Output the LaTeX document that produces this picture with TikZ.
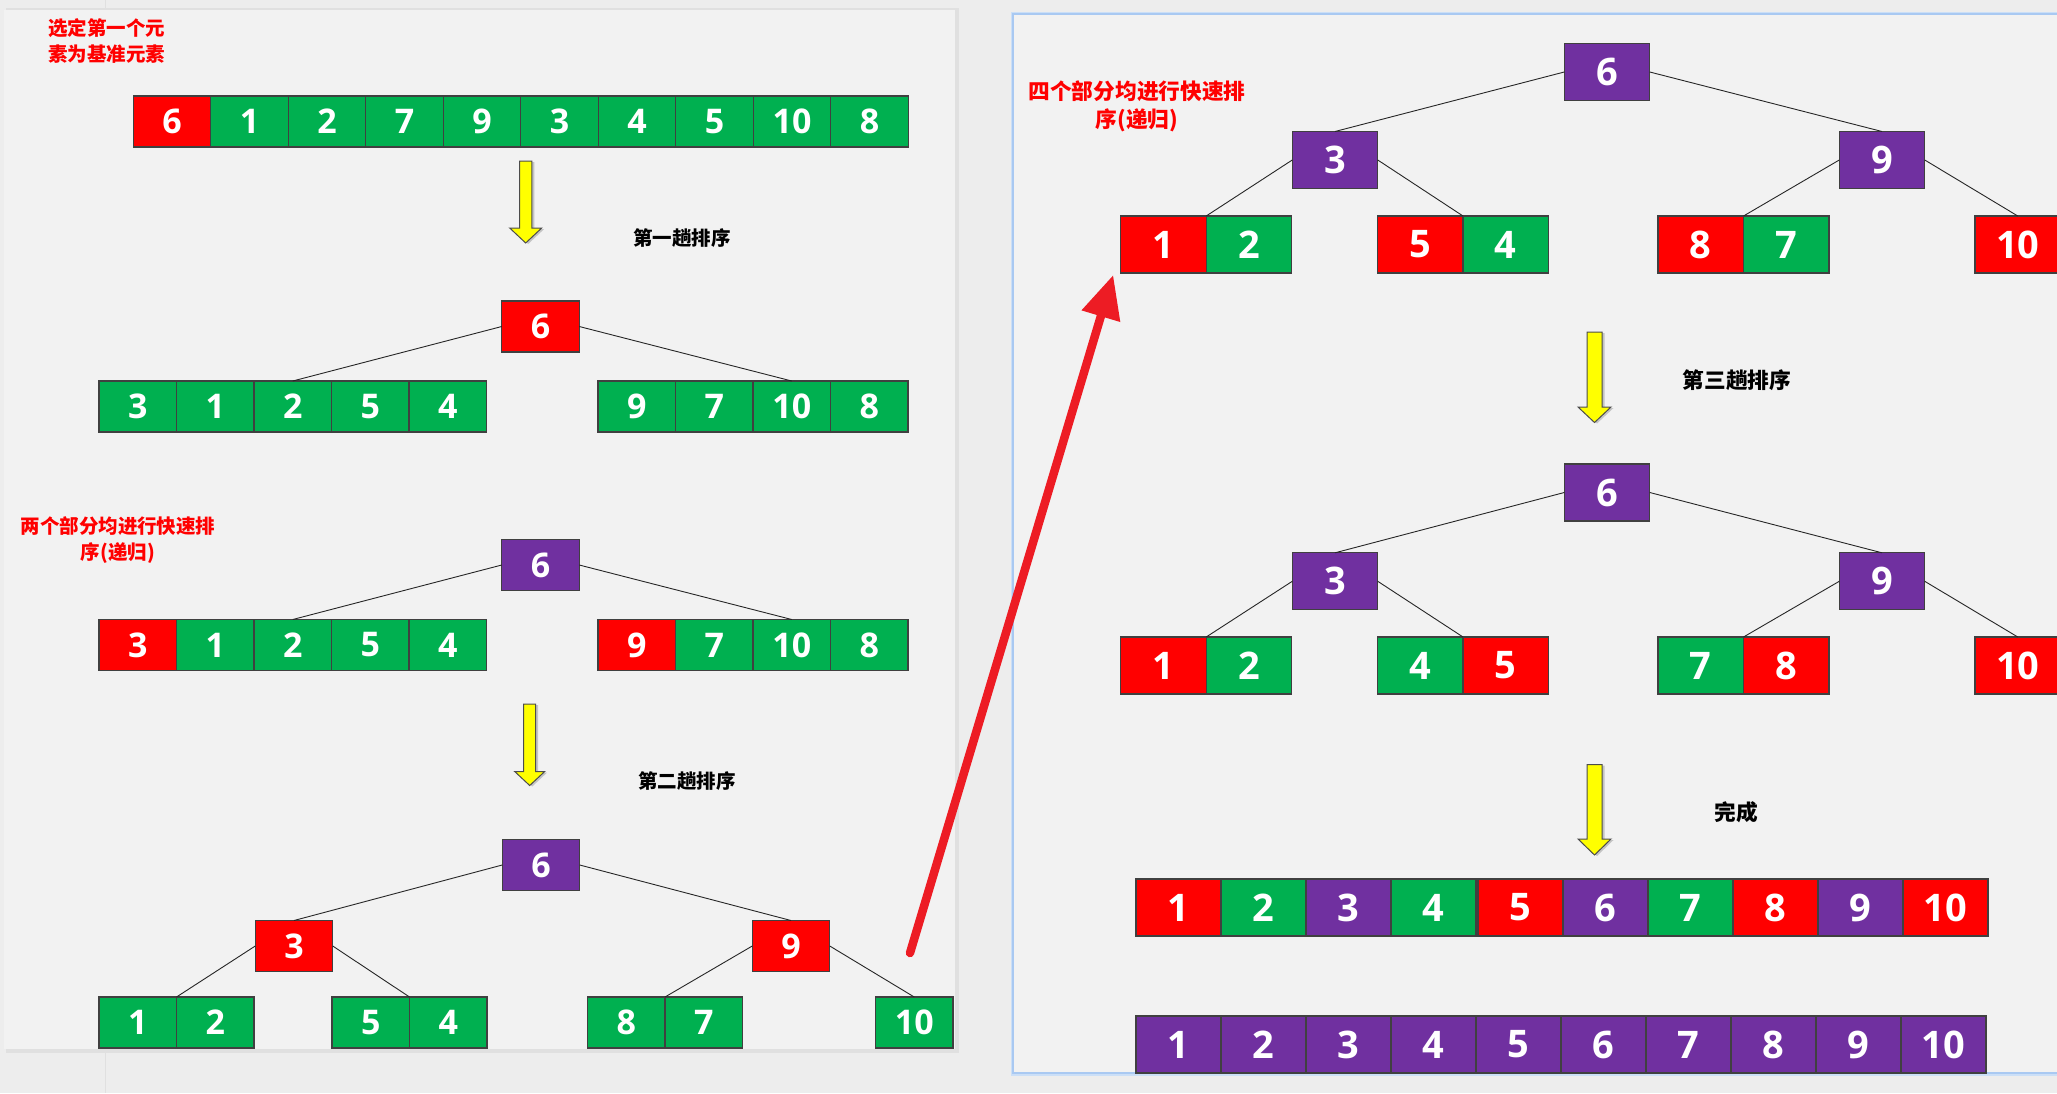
\documentclass[tikz,border=0pt]{standalone}
\usepackage{fontspec}
\setmainfont{Open Sans}
\newfontfamily\cjk{Noto Sans CJK SC}
\usetikzlibrary{arrows.meta,positioning,shadows}
\definecolor{qred}{HTML}{FF0000}
\definecolor{qgreen}{HTML}{00B050}
\definecolor{qpurple}{HTML}{7030A0}
\definecolor{qyellow}{HTML}{FFFF00}
\definecolor{arrowred}{HTML}{ED1C24}
\definecolor{pagebg}{HTML}{EDEDED}
\definecolor{panelbg}{HTML}{F2F2F2}
\definecolor{glow}{HTML}{A9C9F2}

\begin{document}
\begin{tikzpicture}[x=1pt, y=-1pt,
  cell/.style={rectangle, draw=black!75, line width=1.3pt, minimum width=77.5pt,
               minimum height=51pt, inner sep=0pt, outer sep=0pt, text=white,
               font=\bfseries\fontsize{34}{40}\selectfont},
  big/.style={minimum width=85.5pt, minimum height=57pt,
              font=\bfseries\fontsize{38}{44}\selectfont},
  re/.style={cell, fill=qred},
  gr/.style={cell, fill=qgreen},
  pu/.style={cell, fill=qpurple},
  lbl/.style={text=qred, align=center, inner sep=0pt,
              font=\cjk\bfseries\fontsize{19.5}{26}\selectfont},
  rlbl/.style={lbl, font=\cjk\bfseries\fontsize{21.7}{28}\selectfont},
  passlbl/.style={inner sep=0pt, font=\cjk\bfseries\fontsize{19.5}{24}\selectfont},
  rpass/.style={passlbl, font=\cjk\bfseries\fontsize{21.7}{26}\selectfont},
  link/.style={draw=black!85, line width=0.9pt},
  yarr/.style={draw=black!70, line width=1pt, fill=qyellow, line join=miter,
               drop shadow={shadow xshift=2.5pt, shadow yshift=-1pt, fill=black!35, opacity=.6}},
  jump/.style={-{Triangle[length=43pt,width=38pt]}, draw=arrowred, line width=8.5pt,
               line cap=round}]
  \useasboundingbox (0,0) rectangle (2057,1093);
  % background and the two panels
  \fill[pagebg] (0,0) rectangle (2057,1093);
  \draw[black!12] (105,0) -- (105,1093);
  \fill[black!12] (6,8) rectangle (959,1053);
  \fill[panelbg] (4,10) rectangle (955,1049);
  \draw[glow!60, line width=5pt] (1013,14) rectangle (2075,1073);
  \draw[glow, line width=1.5pt, fill=panelbg] (1013,14) rectangle (2075,1073);

  % left panel: starting array
  \node[lbl] (t1) at (107,41) {选定第一个元\\素为基准元素};
  \node[re, anchor=north west] (a1) at (133.3,96) {6};
  \node[gr, right=0pt of a1] (a2) {1};
  \node[gr, right=0pt of a2] (a3) {2};
  \node[gr, right=0pt of a3] (a4) {7};
  \node[gr, right=0pt of a4] (a5) {9};
  \node[gr, right=0pt of a5] (a6) {3};
  \node[gr, right=0pt of a6] (a7) {4};
  \node[gr, right=0pt of a7] (a8) {5};
  \node[gr, right=0pt of a8] (a9) {10};
  \node[gr, right=0pt of a9] (a10) {8};
  \draw[yarr] (519.5,161) -- (531.9,161) -- (531.9,228) -- (541.7,228) -- (525.7,243)
    -- (509.7,228) -- (519.5,228) -- cycle;
  \node[passlbl] (s1) at (682,238) {第一趟排序};

  % first pass
  \node[re] (p1) at (540.5,326.5) {6};
  \node[gr, anchor=north west] (b1) at (99,381) {3};
  \node[gr, right=0pt of b1] (b2) {1};
  \node[gr, right=0pt of b2] (b3) {2};
  \node[gr, right=0pt of b3] (b4) {5};
  \node[gr, right=0pt of b4] (b5) {4};
  \node[gr, anchor=north west] (b6) at (598,381) {9};
  \node[gr, right=0pt of b6] (b7) {7};
  \node[gr, right=0pt of b7] (b8) {10};
  \node[gr, right=0pt of b8] (b9) {8};
  \draw[link] (p1.west) -- (b3.north);
  \draw[link] (p1.east) -- (b8.north);

  % both halves again
  \node[lbl] (t2) at (118,540) {两个部分均进行快速排\\序(递归)};
  \node[pu] (p2) at (540.5,565) {6};
  \node[re, anchor=north west] (c1) at (99,619.5) {3};
  \node[gr, right=0pt of c1] (c2) {1};
  \node[gr, right=0pt of c2] (c3) {2};
  \node[gr, right=0pt of c3] (c4) {5};
  \node[gr, right=0pt of c4] (c5) {4};
  \node[re, anchor=north west] (c6) at (598,619.5) {9};
  \node[gr, right=0pt of c6] (c7) {7};
  \node[gr, right=0pt of c7] (c8) {10};
  \node[gr, right=0pt of c8] (c9) {8};
  \draw[link] (p2.west) -- (c3.north);
  \draw[link] (p2.east) -- (c8.north);
  \draw[yarr] (523.7,704) -- (535.7,704) -- (535.7,771.5) -- (544.7,771.5) -- (529.7,785.5)
    -- (514.7,771.5) -- (523.7,771.5) -- cycle;
  \node[passlbl] (s2) at (687,781) {第二趟排序};

  % second pass
  \node[pu] (p3) at (541,865) {6};
  \node[re] (q3) at (294,946) {3};
  \node[re] (q9) at (791,946) {9};
  \node[gr, anchor=north west] (d1) at (99,997) {1};
  \node[gr, right=0pt of d1] (d2) {2};
  \node[gr, anchor=north west] (d3) at (332,997) {5};
  \node[gr, right=0pt of d3] (d4) {4};
  \node[gr, anchor=north west] (d5) at (587.5,997) {8};
  \node[gr, right=0pt of d5] (d6) {7};
  \node[gr, anchor=north west] (d7) at (875.5,997) {10};
  \draw[link] (p3.west) -- (q3.north);
  \draw[link] (p3.east) -- (q9.north);
  \draw[link] (q3.west) -- (d1.north east);
  \draw[link] (q3.east) -- (d3.north east);
  \draw[link] (q9.west) -- (d5.north east);
  \draw[link] (q9.east) -- (d7.north);

  % right panel: four parts
  \node[rlbl] (t3) at (1137,106) {四个部分均进行快速排\\序(递归)};
  \node[pu, big] (p4) at (1607,72) {6};
  \node[pu, big] (e3) at (1335,160) {3};
  \node[pu, big] (e9) at (1882,160) {9};
  \node[re, big, anchor=north west] (f1) at (1120.7,216) {1};
  \node[gr, big, right=0pt of f1] (f2) {2};
  \node[re, big, anchor=north west] (f3) at (1377.5,216) {5};
  \node[gr, big, right=0pt of f3] (f4) {4};
  \node[re, big, anchor=north west] (f5) at (1658,216) {8};
  \node[gr, big, right=0pt of f5] (f6) {7};
  \node[re, big, anchor=north west] (f7) at (1975,216) {10};
  \draw[link] (p4.west) -- (e3.north);
  \draw[link] (p4.east) -- (e9.north);
  \draw[link] (e3.west) -- (f1.north east);
  \draw[link] (e3.east) -- (f3.north east);
  \draw[link] (e9.west) -- (f5.north east);
  \draw[link] (e9.east) -- (f7.north);
  \draw[yarr] (1587,332) -- (1602,332) -- (1602,407) -- (1611,407) -- (1594.5,422.5)
    -- (1578,407) -- (1587,407) -- cycle;
  \node[rpass] (s3) at (1737,380) {第三趟排序};

  % third pass
  \node[pu, big] (p5) at (1607,492.5) {6};
  \node[pu, big] (g3) at (1335,581.3) {3};
  \node[pu, big] (g9) at (1882,581.3) {9};
  \node[re, big, anchor=north west] (h1) at (1120.7,637) {1};
  \node[gr, big, right=0pt of h1] (h2) {2};
  \node[gr, big, anchor=north west] (h3) at (1377.5,637) {4};
  \node[re, big, right=0pt of h3] (h4) {5};
  \node[gr, big, anchor=north west] (h5) at (1658,637) {7};
  \node[re, big, right=0pt of h5] (h6) {8};
  \node[re, big, anchor=north west] (h7) at (1975,637) {10};
  \draw[link] (p5.west) -- (g3.north);
  \draw[link] (p5.east) -- (g9.north);
  \draw[link] (g3.west) -- (h1.north east);
  \draw[link] (g3.east) -- (h3.north east);
  \draw[link] (g9.west) -- (h5.north east);
  \draw[link] (g9.east) -- (h7.north);
  \draw[yarr] (1587,764.7) -- (1602,764.7) -- (1602,839) -- (1611,839) -- (1594.5,855)
    -- (1578,839) -- (1587,839) -- cycle;
  \node[rpass] (s4) at (1736,812) {完成};

  % result
  \node[re, big, minimum width=85pt, anchor=north west] (k1) at (1136,879) {1};
  \node[gr, big, minimum width=85pt, right=0pt of k1] (k2) {2};
  \node[pu, big, minimum width=85pt, right=0pt of k2] (k3) {3};
  \node[gr, big, minimum width=85pt, right=0pt of k3] (k4) {4};
  \node[re, big, minimum width=85pt, right=2pt of k4] (k5) {5};
  \node[pu, big, minimum width=85pt, right=0pt of k5] (k6) {6};
  \node[gr, big, minimum width=85pt, right=0pt of k6] (k7) {7};
  \node[re, big, minimum width=85pt, right=0pt of k7] (k8) {8};
  \node[pu, big, minimum width=85pt, right=0pt of k8] (k9) {9};
  \node[re, big, minimum width=85pt, right=0pt of k9] (k10) {10};
  \node[pu, big, minimum width=85pt, anchor=north west] (m1) at (1136,1016) {1};
  \node[pu, big, minimum width=85pt, right=0pt of m1] (m2) {2};
  \node[pu, big, minimum width=85pt, right=0pt of m2] (m3) {3};
  \node[pu, big, minimum width=85pt, right=0pt of m3] (m4) {4};
  \node[pu, big, minimum width=85pt, right=0pt of m4] (m5) {5};
  \node[pu, big, minimum width=85pt, right=0pt of m5] (m6) {6};
  \node[pu, big, minimum width=85pt, right=0pt of m6] (m7) {7};
  \node[pu, big, minimum width=85pt, right=0pt of m7] (m8) {8};
  \node[pu, big, minimum width=85pt, right=0pt of m8] (m9) {9};
  \node[pu, big, minimum width=85pt, right=0pt of m9] (m10) {10};

  % the jump between the panels
  \coordinate (rs) at (910,953);
  \draw[jump] (rs) -- ([xshift=-7.5pt,yshift=-2pt]f1.south west);
\end{tikzpicture}
\end{document}
